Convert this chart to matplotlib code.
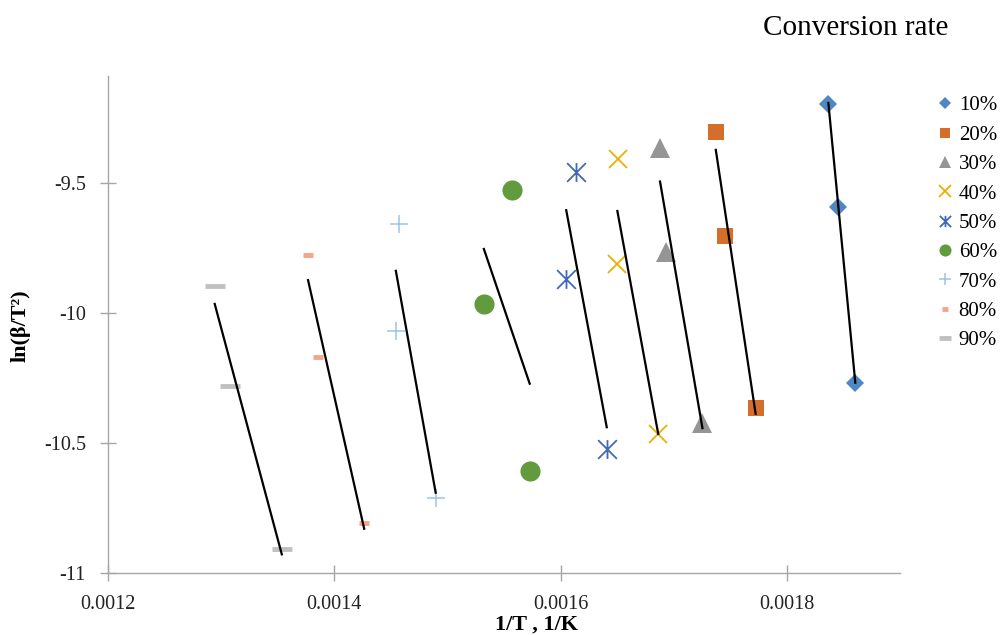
import numpy as np
import matplotlib.pyplot as plt
from matplotlib.path import Path

plt.rcParams['font.family'] = ['Liberation Serif', 'DejaVu Serif']

# 数据 (1/T, ln(beta/T^2)) for each conversion rate
labels = ['10%', '20%', '30%', '40%', '50%', '60%', '70%', '80%', '90%']
x10 = [0.0018367, 0.0018456, 0.0018605]
y10 = [-9.196, -9.592, -10.270]
x20 = [0.0017372, 0.0017456, 0.0017724]
y20 = [-9.307, -9.704, -10.367]
x30 = [0.0016879, 0.0016928, 0.0017254]
y30 = [-9.367, -9.767, -10.424]
x40 = [0.0016505, 0.0016502, 0.0016863]
y40 = [-9.409, -9.814, -10.467]
x50 = [0.0016135, 0.0016050, 0.0016408]
y50 = [-9.457, -9.870, -10.522]
x60 = [0.0015571, 0.0015322, 0.0015727]
y60 = [-9.527, -9.965, -10.608]
x70 = [0.0014573, 0.0014544, 0.0014896]
y70 = [-9.658, -10.069, -10.712]
x80 = [0.0013768, 0.0013859, 0.0014264]
y80 = [-9.777, -10.169, -10.808]
x90 = [0.0012943, 0.0013081, 0.0013536]
y90 = [-9.896, -10.281, -10.907]

xs = [x10, x20, x30, x40, x50, x60, x70, x80, x90]
ys = [y10, y20, y30, y40, y50, y60, y70, y80, y90]

# Excel 风格的星号 (X + 竖线)
star = Path([(-0.5, -0.5), (0.5, 0.5), (-0.5, 0.5), (0.5, -0.5), (0, -0.5), (0, 0.5)],
            [Path.MOVETO, Path.LINETO, Path.MOVETO, Path.LINETO, Path.MOVETO, Path.LINETO])

styles = [
    dict(marker='D', color='#4F87C2', ms=9.5, mew=0),
    dict(marker='s', color='#D46F2B', ms=12, mew=0),
    dict(marker='^', color='#959595', ms=14, mew=0),
    dict(marker='x', color='#EDB000', ms=13.5, mew=1.3),
    dict(marker=star, color='#4169B8', ms=13.5, mew=1.3),
    dict(marker='o', color='#629B3E', ms=14.5, mew=0),
    dict(marker='+', color='#9DC3E6', ms=13.5, mew=1.1),
    dict(marker='_', color='#F4A58A', ms=7, mew=3.5),
    dict(marker='_', color='#C0C0C0', ms=14, mew=3.5),
]

fig = plt.figure(figsize=(10.04, 6.35), dpi=100)
ax = fig.add_axes([0.1076, 0.0976, 0.7888, 0.7827])

handles = []
for x, y, lab, st in zip(xs, ys, labels, styles):
    h, = ax.plot(x, y, linestyle='none', marker=st['marker'], color=st['color'],
                 markersize=st['ms'], markeredgewidth=st['mew'], label=lab)
    handles.append(h)
    # 线性趋势线
    k, b = np.polyfit(x, y, 1)
    xx = np.array([min(x), max(x)])
    ax.plot(xx, k * xx + b, color='black', linewidth=1.6, zorder=3)

ax.set_xlim(0.0012, 0.0019)
ax.set_ylim(-11, -9.09)
ax.set_xticks([0.0012, 0.0014, 0.0016, 0.0018])
ax.set_xticklabels(['0.0012', '0.0014', '0.0016', '0.0018'])
ax.set_yticks([-11, -10.5, -10, -9.5])
ax.set_yticklabels(['-11', '-10.5', '-10', '-9.5'])

for s in ['top', 'right']:
    ax.spines[s].set_visible(False)
for s in ['left', 'bottom']:
    ax.spines[s].set_color('#A6A6A6')
    ax.spines[s].set_linewidth(1.0)
ax.tick_params(direction='inout', length=12, width=1.0, color='#A6A6A6',
               labelsize=14.5, labelcolor='#222222')
ax.tick_params(axis='y', pad=10)
ax.tick_params(axis='x', pad=10)

# 坐标轴标题 (位置按原图手动放置)
fig.text(0.021, 0.487, 'ln(β/T²)', fontsize=16, fontweight='bold', rotation=90,
         ha='center', va='center')
fig.text(0.534, 0.017, '1/T , 1/K', fontsize=16, fontweight='bold',
         ha='center', va='center')

fig.text(0.852, 0.956, 'Conversion rate', fontsize=21, ha='center', va='center')

leg = fig.legend(handles=handles, loc='upper left', bbox_to_anchor=(0.931, 0.849),
                 frameon=False, fontsize=15, markerscale=0.6, handlelength=1.0,
                 handletextpad=0.15, labelspacing=0.47, borderaxespad=0,
                 borderpad=0)

fig.savefig('out.png', dpi=100)
